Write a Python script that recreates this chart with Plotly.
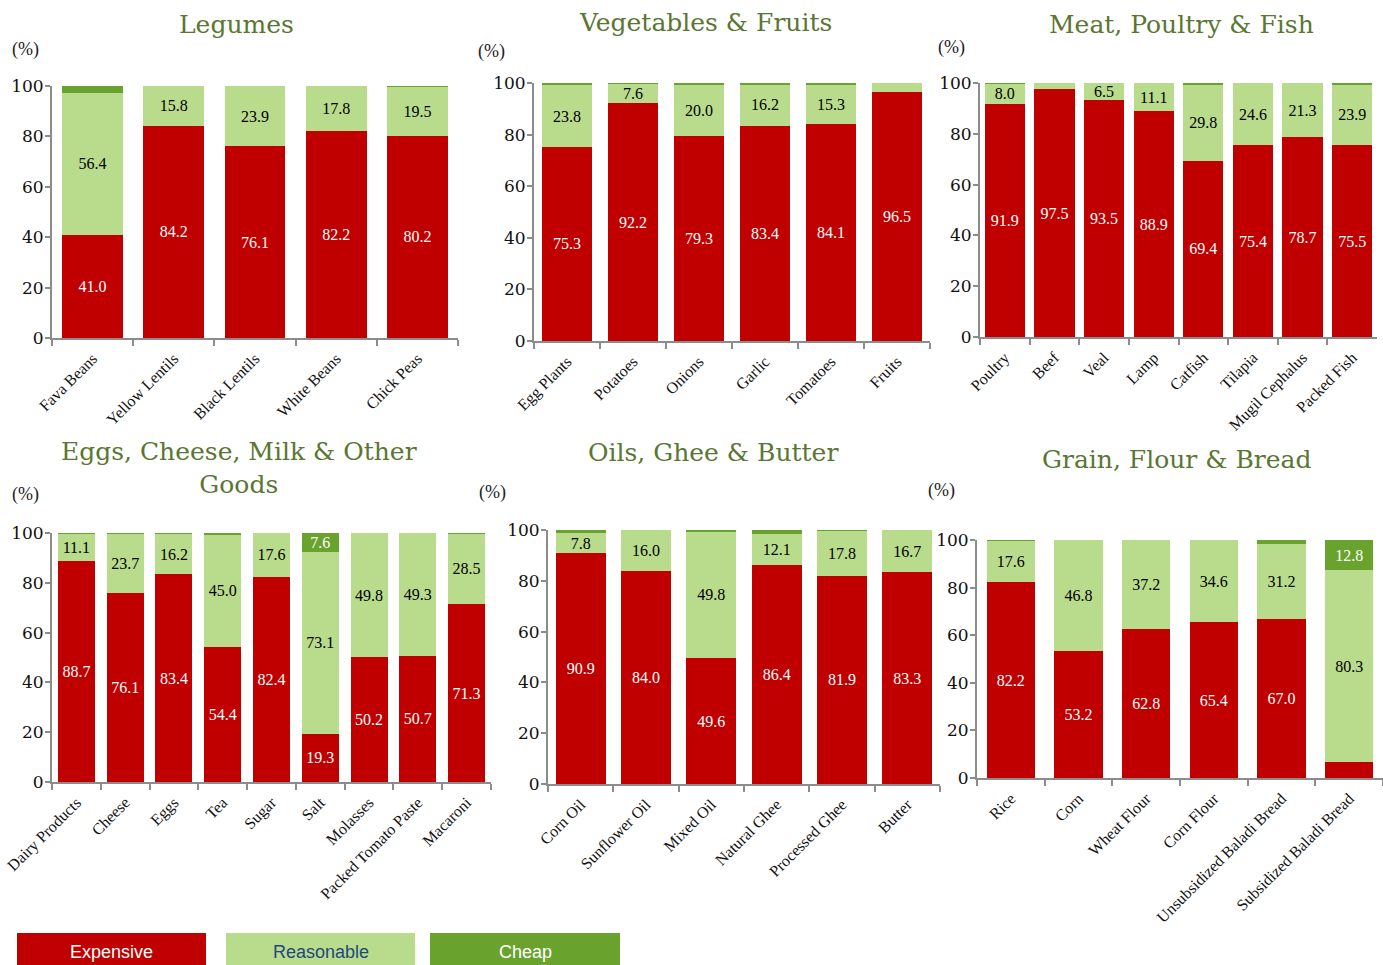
import plotly.graph_objects as go

# ---------------- DATA ----------------
legumes_cats = ["Fava Beans", "Yellow Lentils", "Black Lentils", "White Beans", "Chick Peas"]
legumes_exp = [41.0, 84.2, 76.1, 82.2, 80.2]
legumes_rea = [56.4, 15.8, 23.9, 17.8, 19.5]
legumes_chp = [2.6, 0.0, 0.0, 0.0, 0.3]

veg_cats = ["Egg Plants", "Potatoes", "Onions", "Garlic", "Tomatoes", "Fruits"]
veg_exp = [75.3, 92.2, 79.3, 83.4, 84.1, 96.5]
veg_rea = [23.8, 7.6, 20.0, 16.2, 15.3, 3.5]
veg_chp = [0.9, 0.2, 0.7, 0.4, 0.6, 0.0]

meat_cats = ["Poultry", "Beef", "Veal", "Lamp", "Catfish", "Tilapia", "Mugil Cephalus", "Packed Fish"]
meat_exp = [91.9, 97.5, 93.5, 88.9, 69.4, 75.4, 78.7, 75.5]
meat_rea = [8.0, 2.5, 6.5, 11.1, 29.8, 24.6, 21.3, 23.9]
meat_chp = [0.1, 0.0, 0.0, 0.0, 0.8, 0.0, 0.0, 0.6]

eggs_cats = ["Dairy Products", "Cheese", "Eggs", "Tea", "Sugar", "Salt", "Molasses",
             "Packed Tomato Paste", "Macaroni"]
eggs_exp = [88.7, 76.1, 83.4, 54.4, 82.4, 19.3, 50.2, 50.7, 71.3]
eggs_rea = [11.1, 23.7, 16.2, 45.0, 17.6, 73.1, 49.8, 49.3, 28.5]
eggs_chp = [0.2, 0.2, 0.4, 0.6, 0.0, 7.6, 0.0, 0.0, 0.2]

oils_cats = ["Corn Oil", "Sunflower Oil", "Mixed Oil", "Natural Ghee", "Processed Ghee", "Butter"]
oils_exp = [90.9, 84.0, 49.6, 86.4, 81.9, 83.3]
oils_rea = [7.8, 16.0, 49.8, 12.1, 17.8, 16.7]
oils_chp = [1.3, 0.0, 0.6, 1.5, 0.3, 0.0]

grain_cats = ["Rice", "Corn", "Wheat Flour", "Corn Flour", "Unsubsidized Baladi Bread",
              "Subsidized Baladi Bread"]
grain_exp = [82.2, 53.2, 62.8, 65.4, 67.0, 6.9]
grain_rea = [17.6, 46.8, 37.2, 34.6, 31.2, 80.3]
grain_chp = [0.2, 0.0, 0.0, 0.0, 1.8, 12.8]

series_names = ["Expensive", "Reasonable", "Cheap"]
panel_titles = ["Legumes", "Vegetables & Fruits", "Meat, Poultry & Fish",
                "Eggs, Cheese, Milk & Other<br>Goods", "Oils, Ghee & Butter", "Grain, Flour & Bread"]
y_ticks = [0, 20, 40, 60, 80, 100]
unlabeled = [("Grain, Flour & Bread", "Subsidized Baladi Bread", "Expensive")]

# ---------------- STYLE ----------------
W, H = 1383, 965
COL_EXP = "#C00000"
COL_REA = "#B9DB8C"
COL_CHP = "#6AA22E"
TITLE_COL = "#5A7632"
AXIS_COL = "#8C8C8C"
SERIF = "Liberation Serif"
TITLE_FONT = "DejaVu Serif"
SANS = "Liberation Sans"


def px(x):
    return x / W


def py(y):
    return 1 - y / H


# panel layout: (x-pixel range of axis, y-pixel range top/bottom, bar width, title pos, (%) pos)
layouts = [
    dict(xr=(52, 458), yr=(86, 338), w=0.75, title=(236, 25), pct=(25, 50)),
    dict(xr=(534, 930), yr=(83, 341), w=0.75, title=(705, 23), pct=(491, 51)),
    dict(xr=(980, 1377), yr=(83, 337), w=0.81, title=(1181, 25), pct=(951, 47)),
    dict(xr=(52, 491), yr=(533, 782), w=0.76, title=(239, 468), pct=(25, 494)),
    dict(xr=(548, 940), yr=(530, 784), w=0.77, title=(713, 452), pct=(493, 493)),
    dict(xr=(977, 1383), yr=(540, 778), w=0.71, title=(1176, 460), pct=(941, 491)),
]

data = [
    (legumes_cats, legumes_exp, legumes_rea, legumes_chp),
    (veg_cats, veg_exp, veg_rea, veg_chp),
    (meat_cats, meat_exp, meat_rea, meat_chp),
    (eggs_cats, eggs_exp, eggs_rea, eggs_chp),
    (oils_cats, oils_exp, oils_rea, oils_chp),
    (grain_cats, grain_exp, grain_rea, grain_chp),
]

colors = [COL_EXP, COL_REA, COL_CHP]
text_cols = ["white", "black", "white"]

fig = go.Figure()
annotations = []
layout_axes = {}

for i, ((cats, e, r, c), lay) in enumerate(zip(data, layouts)):
    xa = "x" if i == 0 else f"x{i+1}"
    ya = "y" if i == 0 else f"y{i+1}"
    title_plain = panel_titles[i].replace("<br>", " ")
    for s, vals in enumerate([e, r, c]):
        texts = []
        for cat, v in zip(cats, vals):
            show = v >= 5 and (title_plain, cat, series_names[s]) not in unlabeled
            texts.append(f"{v:.1f}" if show else "")
        fig.add_trace(go.Bar(
            x=cats, y=vals, xaxis=xa, yaxis=ya, name=series_names[s],
            marker=dict(color=colors[s], line=dict(width=0)),
            width=lay["w"], text=texts, textposition="inside",
            insidetextanchor="middle", textangle=0, constraintext="none",
            textfont=dict(family=SERIF, size=16, color=text_cols[s]),
            hoverinfo="skip", showlegend=False, cliponaxis=False,
        ))
    xkey = "xaxis" if i == 0 else f"xaxis{i+1}"
    ykey = "yaxis" if i == 0 else f"yaxis{i+1}"
    layout_axes[xkey] = dict(
        domain=[px(lay["xr"][0]), px(lay["xr"][1])], anchor=ya, automargin=False,
        type="category", range=[-0.5, len(cats) - 0.5],
        showline=True, linecolor=AXIS_COL, linewidth=2,
        ticks="outside", tickson="boundaries", ticklen=6, tickcolor=AXIS_COL, tickwidth=2,
        tickangle=-45, ticklabelstandoff=3,
        tickfont=dict(family=SERIF, size=16, color="#111111"),
        showgrid=False, zeroline=False, fixedrange=True,
    )
    layout_axes[ykey] = dict(
        domain=[py(lay["yr"][1]), py(lay["yr"][0])], anchor=xa, automargin=False,
        range=[0, 100], tickvals=y_ticks,
        showline=True, linecolor=AXIS_COL, linewidth=2,
        ticks="outside", ticklen=5, tickcolor=AXIS_COL, tickwidth=2, ticklabelstandoff=-2,
        tickfont=dict(family=TITLE_FONT, size=17, color="#111111"),
        showgrid=False, zeroline=False, fixedrange=True,
    )
    annotations.append(dict(
        text=panel_titles[i], x=px(lay["title"][0]), y=py(lay["title"][1]),
        xref="paper", yref="paper", xanchor="center", yanchor="middle", showarrow=False,
        font=dict(family=TITLE_FONT, size=25, color=TITLE_COL),
    ))
    annotations.append(dict(
        text="(%)", x=px(lay["pct"][0]), y=py(lay["pct"][1]),
        xref="paper", yref="paper", xanchor="center", yanchor="middle", showarrow=False,
        font=dict(family=SERIF, size=18, color="#222222"),
    ))

# legend boxes
shapes = []
legend_boxes = [(17, 206, COL_EXP, "white"), (226, 415, COL_REA, "#1F497D"), (430, 620, COL_CHP, "white")]
for (x0, x1, col, tcol), name in zip(legend_boxes, series_names):
    shapes.append(dict(type="rect", xref="paper", yref="paper",
                       x0=px(x0), x1=px(x1), y0=py(967), y1=py(933),
                       fillcolor=col, line=dict(width=0), layer="below"))
    annotations.append(dict(
        text=name, x=px((x0 + x1) / 2), y=py(952), xref="paper", yref="paper",
        xanchor="center", yanchor="middle", showarrow=False,
        font=dict(family=SANS, size=18, color=tcol),
    ))

fig.update_layout(
    width=W, height=H, margin=dict(l=0, r=0, t=0, b=0, autoexpand=False),
    paper_bgcolor="white", plot_bgcolor="white",
    barmode="stack", annotations=annotations, shapes=shapes,
    **layout_axes,
)

fig.write_html(
    "out.html",
    config={"displayModeBar": False},
    post_script="document.body.style.margin='0';document.body.style.overflow='hidden';",
)
